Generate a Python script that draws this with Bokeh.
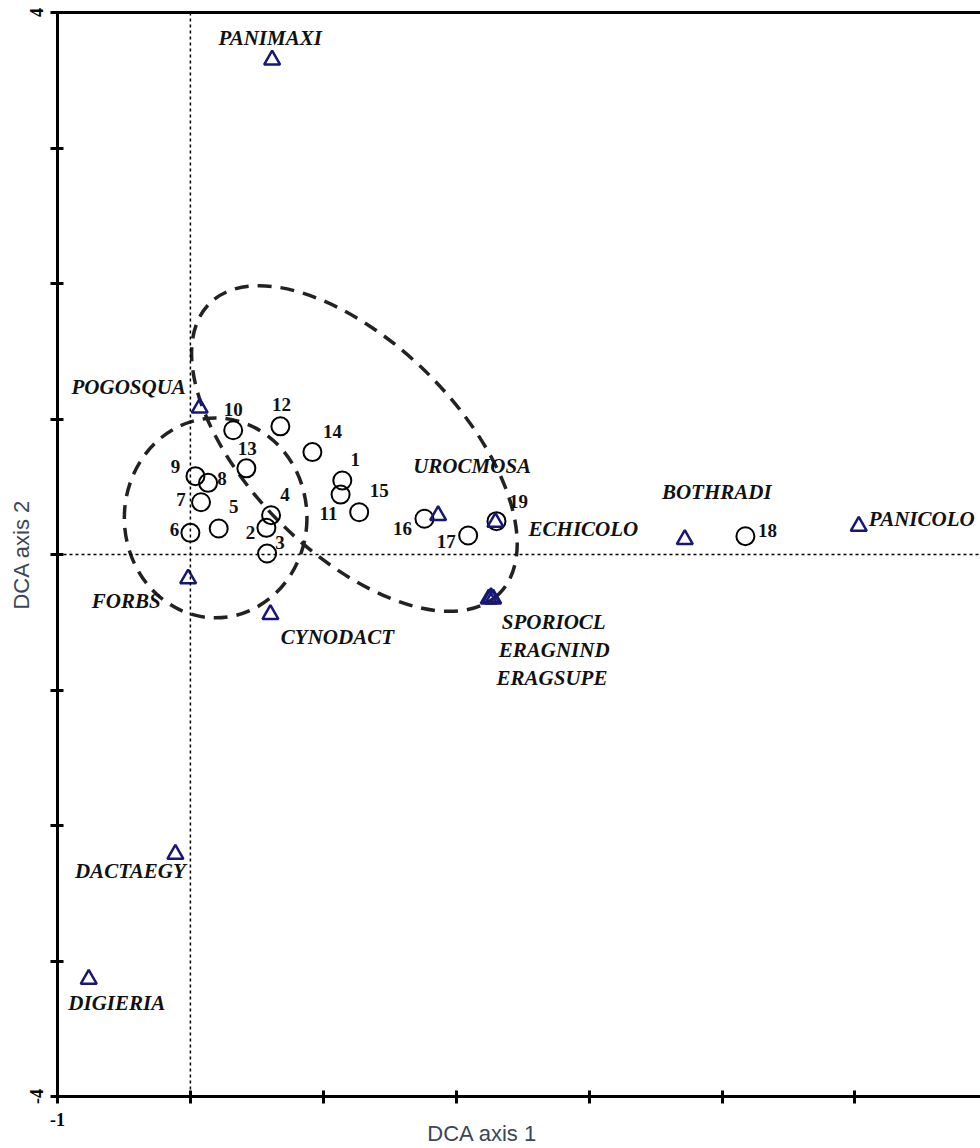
import math

from bokeh.core.properties import value
from bokeh.embed import file_html
from bokeh.models import ColumnDataSource, FixedTicker, LinearAxis, Span
from bokeh.plotting import figure
from bokeh.resources import INLINE

# --- DCA scores -----------------------------------------------------------
sample_ids = [str(i) for i in range(1, 20)]
sample_ax1 = [1.143, 0.572, 0.577, 0.607, 0.213, 0.000, 0.080, 0.133, 0.038, 0.322,
              1.130, 0.677, 0.421, 0.918, 1.270, 1.761, 2.090, 4.176, 2.303]
sample_ax2 = [0.546, 0.197, 0.007, 0.290, 0.192, 0.160, 0.386, 0.529, 0.578, 0.917,
              0.442, 0.946, 0.636, 0.756, 0.312, 0.264, 0.140, 0.135, 0.246]

species = ["PANIMAXI", "POGOSQUA", "FORBS", "CYNODACT", "UROCMOSA", "ECHICOLO",
           "SPORIOCL", "ERAGNIND", "ERAGSUPE", "BOTHRADI", "PANICOLO",
           "DACTAEGY", "DIGIERIA"]
species_ax1 = [0.615, 0.070, -0.017, 0.602, 1.864, 2.295, 2.245, 2.278, 2.262,
               3.720, 5.029, -0.113, -0.765]
species_ax2 = [3.650, 1.082, -0.179, -0.442, 0.288, 0.238, -0.327, -0.327, -0.317,
               0.111, 0.209, -2.212, -3.134]

# Dashed enclosures around the two sample groups (centre, width, height, angle)
group_cx = [0.19, 1.234]
group_cy = [0.27, 0.782]
group_w = [1.374, 3.085]
group_h = [1.475, 1.549]
group_angle = [0.0, -math.pi / 4]

x_ticks = list(range(-1, 7))
y_ticks = list(range(-4, 5))
x_tick_text = {-1: "-1", 6: "6"}
y_tick_text = {-4: "-4", 4: "4"}

# --- label placement (screen pixels, +dy = downwards) --------------------
sample_dx = [13, -16, 13, 14, 15, -16, -20, 14, -20, 0, -12, 1, 1, 20, 20, -22, -22, 22, 22]
sample_dy = [-21, 5, -11, -21, -22, -3, -3, -4, -10, -21, 19, -22, -20, -21, -22, 10, 6, -6, -20]
species_dx = [-2, -71, -62, 67, 34, 88, 65, 61, 61, 32, 63, -45, 28]
species_dy = [-22, -21, 22, 23, -49, 7, 23, 51, 81, -47, -7, 17, 24]

SERIF = value("Liberation Serif")
NAVY = "#17177a"
AXIS_TITLE = "#3a4758"
NBSP = "\u00a0"

p = figure(width=980, height=1148, x_range=(-1, 5.945), y_range=(-4, 4),
           output_backend="svg", toolbar_location=None,
           min_border_left=57, min_border_right=0, min_border_top=12,
           min_border_bottom=51)
p.outline_line_color = None
p.grid.visible = False
p.background_fill_color = "white"
p.border_fill_color = "white"

# dotted zero lines
for dim in ("height", "width"):
    p.add_layout(Span(location=0, dimension=dim, line_color="black",
                      line_width=1.5, line_dash="3 3"))

# group ellipses
p.ellipse(x=group_cx, y=group_cy, width=group_w, height=group_h, angle=group_angle,
          fill_color=None, line_color="#222222", line_width=3.5, line_dash="14 9")

samples = ColumnDataSource(dict(x=sample_ax1, y=sample_ax2, t=sample_ids,
                                dx=sample_dx, dy=sample_dy))
spp = ColumnDataSource(dict(x=species_ax1, y=species_ax2, t=species,
                            dx=species_dx, dy=species_dy))

p.scatter("x", "y", source=samples, marker="circle", size=18, fill_color=None,
          line_color="black", line_width=2)
p.scatter("x", "y", source=spp, marker="triangle", size=16, fill_color=None,
          line_color=NAVY, line_width=2.5)

p.text("x", "y", text="t", source=samples, x_offset="dx", y_offset="dy",
       text_font=SERIF, text_font_style="bold", text_font_size="19px",
       text_color="#111111", text_align="center", text_baseline="middle")
p.text("x", "y", text="t", source=spp, x_offset="dx", y_offset="dy",
       text_font=SERIF, text_font_style="bold italic", text_font_size="21px",
       text_color="#111111", text_align="center", text_baseline="middle")

# axes
xa = p.xaxis[0]
xa.ticker = FixedTicker(ticks=x_ticks)
xa.major_label_overrides = {t: x_tick_text.get(t, "") for t in x_ticks}
xa.major_label_text_align = "left"
xa.major_label_standoff = 9
# trailing no-break spaces pull the centred title a little to the left
xa.axis_label = "DCA axis 1" + NBSP * 12
xa.axis_label_standoff = -8

ya = p.yaxis[0]
ya.ticker = FixedTicker(ticks=y_ticks)
ya.major_label_overrides = {t: y_tick_text.get(t, "") for t in y_ticks}
ya.major_label_orientation = "vertical"
ya.major_label_standoff = 8
ya.axis_label = "DCA axis 2"
ya.axis_label_standoff = -7

for ax in (xa, ya):
    ax.axis_line_width = 3
    ax.axis_line_color = "black"
    ax.major_tick_line_width = 3
    ax.major_tick_in = 6
    ax.major_tick_out = 7
    ax.minor_tick_line_color = None
    ax.major_label_text_font = "Liberation Serif"
    ax.major_label_text_font_style = "bold"
    ax.major_label_text_font_size = "18px"
    ax.major_label_text_color = "black"
    ax.axis_label_text_font = "Liberation Sans"
    ax.axis_label_text_font_style = "normal"
    ax.axis_label_text_font_size = "22px"
    ax.axis_label_text_color = AXIS_TITLE

top = LinearAxis(ticker=FixedTicker(ticks=[]), axis_line_width=3,
                 axis_line_color="black", major_tick_in=0, major_tick_out=0,
                 minor_tick_line_color=None, major_label_text_font_size="0px")
p.add_layout(top, "above")

open("out.html", "w").write(file_html(p, INLINE))
